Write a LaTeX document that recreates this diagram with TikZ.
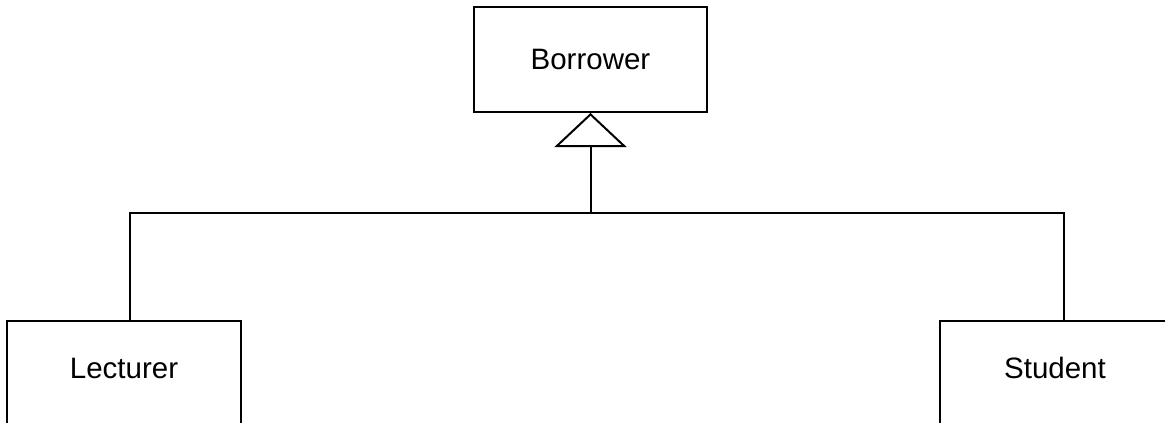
\documentclass[tikz,border=0pt]{standalone}
\usepackage{fontspec}
\setmainfont{Liberation Sans}
\usetikzlibrary{arrows.meta}
\begin{document}
\begin{tikzpicture}[x=1pt,y=-1pt,
  line width=2pt,
  cls/.style={draw,rectangle,inner sep=0pt,minimum width=234pt},
  lbl/.style={inner sep=0pt,font=\fontsize{29.5pt}{34pt}\selectfont},
  gen/.style={-{Triangle[open,length=34pt,width=72pt]}}]
  \useasboundingbox (0,0) rectangle (1165,423);
  \clip (0,0) rectangle (1165,423);
  % superclass
  \node[cls,minimum width=233pt,minimum height=105pt,anchor=north] (borrower) at (590.5,6) {};
  \node[lbl] (borrowerT) at (borrower.center) {Borrower};
  % subclasses (open at the lower edge of the page)
  \node[cls,minimum height=200pt,anchor=north] (lecturer) at (124,320) {};
  \node[lbl] (lecturerT) at ([yshift=-48pt]lecturer.north) {Lecturer};
  \node[cls,minimum width=300pt,minimum height=200pt,anchor=north west] (student) at (939,320) {};
  \node[lbl] (studentT) at ([xshift=116pt,yshift=-48pt]student.north west) {Student};
  % generalisation tree
  \coordinate (jm) at (590.5,213);
  \coordinate (jl) at (130,213);
  \coordinate (jr) at (1064,213);
  \draw (jl |- lecturer.north) -- (jl) -- (jr) -- (jr |- student.north);
  \draw[gen] (jm) -- (borrower.south);
\end{tikzpicture}
\end{document}
